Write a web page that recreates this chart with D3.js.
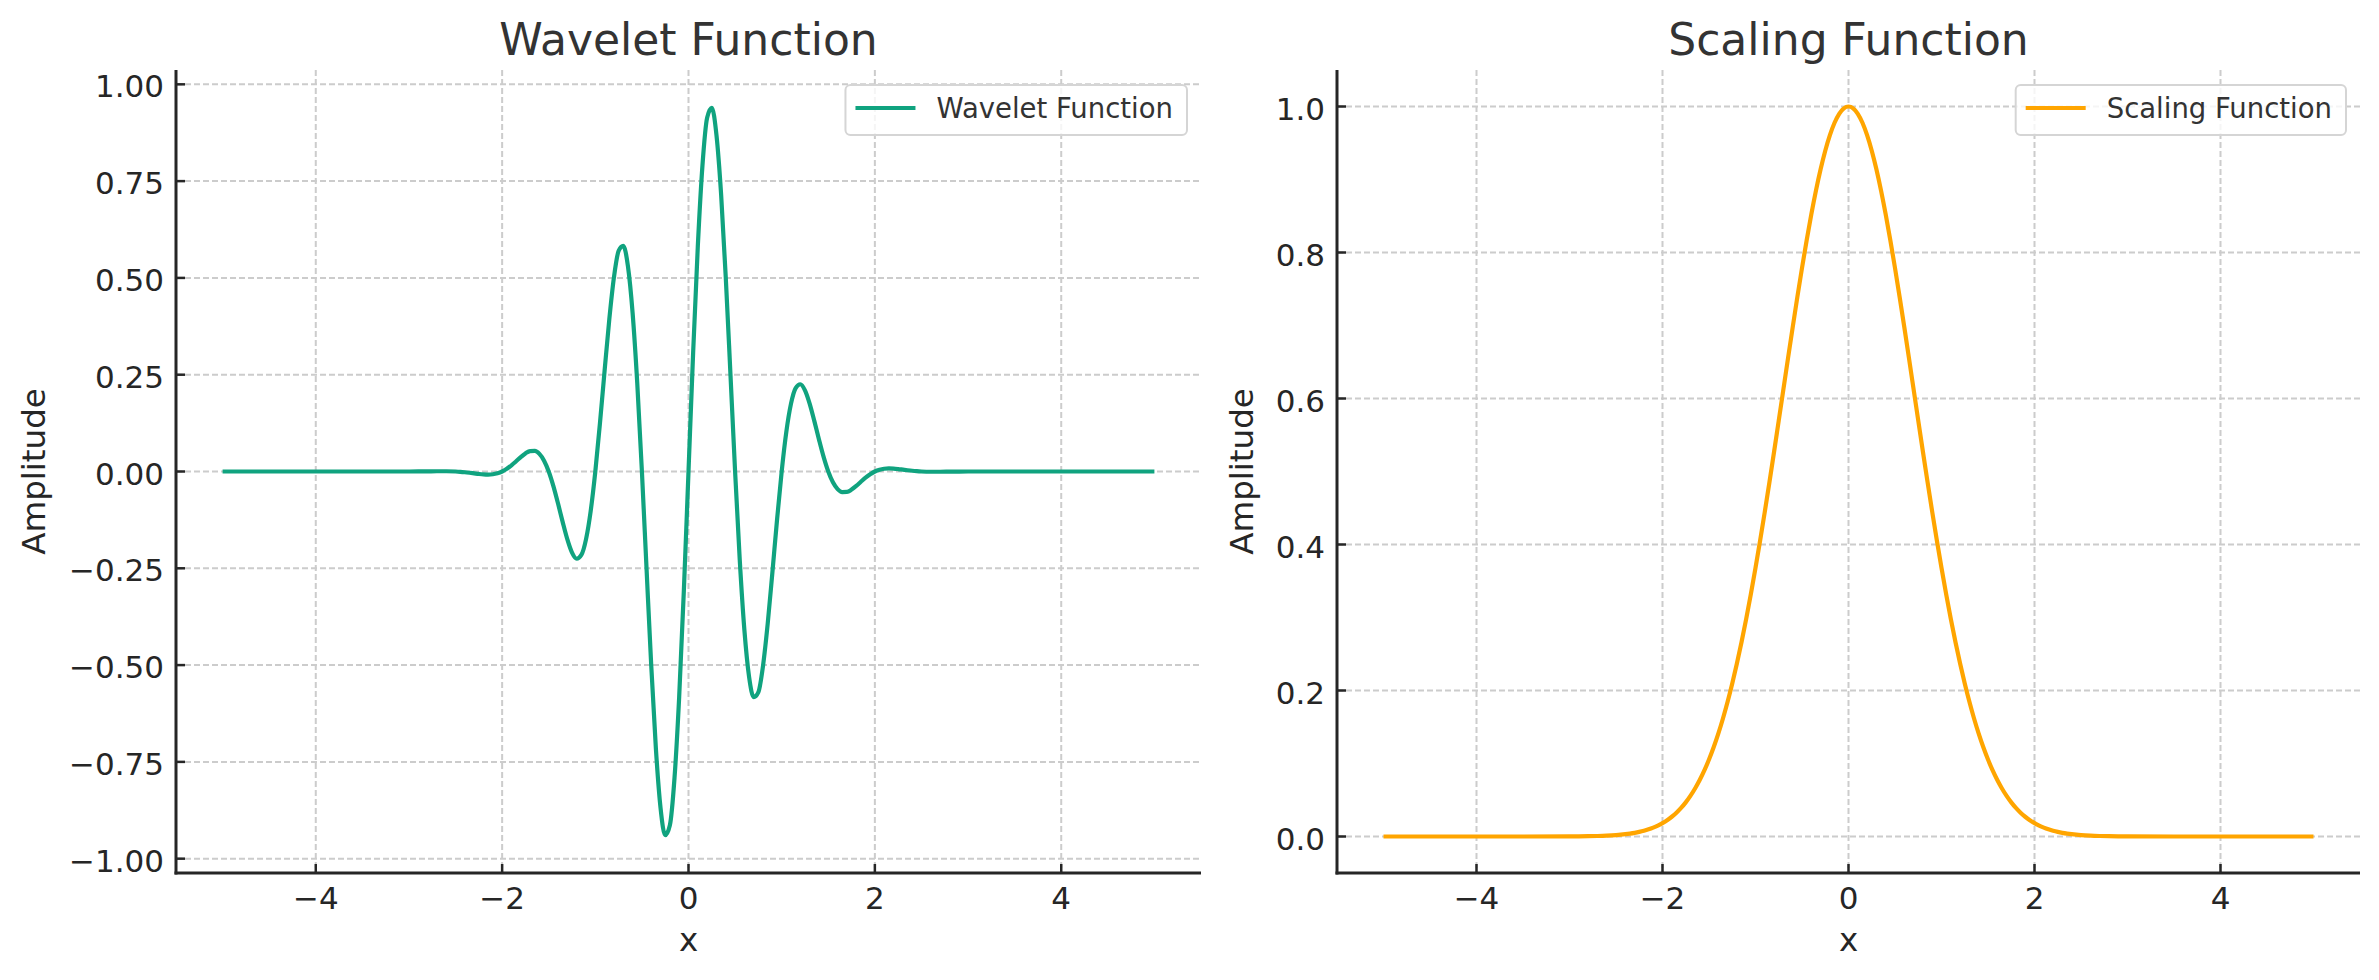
<!DOCTYPE html>
<html><head><meta charset="utf-8">
<script src="https://cdn.jsdelivr.net/npm/d3@7"></script>
<style>body{margin:0;background:#fff} svg{display:block} text{font-family:"DejaVu Sans",sans-serif}</style>
</head><body><svg id="chart" width="2379" height="980"></svg>
<script>
const xValues = [-5,-4.5,-4,-3.5,-3,-2.9,-2.8,-2.7,-2.6,-2.5,-2.45,-2.4,-2.35,-2.3,-2.25,-2.2,-2.15,-2.1,-2.05,-2,-1.95,-1.9,-1.85,-1.8,-1.75,-1.7,-1.65,-1.6,-1.55,-1.5,-1.45,-1.4,-1.35,-1.3,-1.25,-1.2,-1.15,-1.1,-1.05,-1,-0.95,-0.9,-0.85,-0.8,-0.75,-0.7,-0.65,-0.6,-0.55,-0.5,-0.45,-0.4,-0.35,-0.3,-0.25,-0.2,-0.15,-0.1,-0.05,0,0.05,0.1,0.15,0.2,0.25,0.3,0.35,0.4,0.45,0.5,0.55,0.6,0.65,0.7,0.75,0.8,0.85,0.9,0.95,1,1.05,1.1,1.15,1.2,1.25,1.3,1.35,1.4,1.45,1.5,1.55,1.6,1.65,1.7,1.75,1.8,1.85,1.9,1.95,2,2.05,2.1,2.15,2.2,2.25,2.3,2.35,2.4,2.45,2.5,2.6,2.7,2.8,2.9,3,3.5,4,4.5,5];
const waveletValues = [0,0,0,0,0,0.00013,0.00037,0.00065,0.00068,0,-0.00076,-0.00185,-0.00324,-0.00479,-0.00633,-0.00752,-0.00795,-0.00715,-0.00462,0,0.0069,0.0159,0.0264,0.03724,0.04677,0.05286,0.05316,0.04544,0.02796,0,-0.03774,-0.0828,-0.13075,-0.17549,-0.20961,-0.22533,-0.21558,-0.17528,-0.10261,0,0.12533,0.26148,0.39281,0.50149,0.56978,0.58265,0.53024,0.41009,0.22836,0,-0.25237,-0.50088,-0.71575,-0.8692,-0.93941,-0.91377,-0.79102,-0.58194,-0.30825,0,0.30825,0.58194,0.79102,0.91377,0.93941,0.8692,0.71575,0.50088,0.25237,0,-0.22836,-0.41009,-0.53024,-0.58265,-0.56978,-0.50149,-0.39281,-0.26148,-0.12533,0,0.10261,0.17528,0.21558,0.22533,0.20961,0.17549,0.13075,0.0828,0.03774,0,-0.02796,-0.04544,-0.05316,-0.05286,-0.04677,-0.03724,-0.0264,-0.0159,-0.0069,0,0.00462,0.00715,0.00795,0.00752,0.00633,0.00479,0.00324,0.00185,0.00076,0,-0.00068,-0.00065,-0.00037,-0.00013,0,0,0,0,0];
const scalingValues = [0,0,0,0,0.00012,0.00022,0.00039,0.00068,0.00116,0.00193,0.00247,0.00315,0.004,0.00504,0.00633,0.00791,0.00983,0.01216,0.01496,0.01832,0.02232,0.02705,0.03263,0.03916,0.04677,0.05558,0.06571,0.0773,0.09049,0.1054,0.12215,0.14086,0.16162,0.18452,0.20961,0.23693,0.26647,0.2982,0.33204,0.36788,0.40555,0.44486,0.48554,0.52729,0.56978,0.61263,0.65541,0.69768,0.73897,0.7788,0.81669,0.85214,0.88471,0.91393,0.93941,0.96079,0.97775,0.99005,0.9975,1,0.9975,0.99005,0.97775,0.96079,0.93941,0.91393,0.88471,0.85214,0.81669,0.7788,0.73897,0.69768,0.65541,0.61263,0.56978,0.52729,0.48554,0.44486,0.40555,0.36788,0.33204,0.2982,0.26647,0.23693,0.20961,0.18452,0.16162,0.14086,0.12215,0.1054,0.09049,0.0773,0.06571,0.05558,0.04677,0.03916,0.03263,0.02705,0.02232,0.01832,0.01496,0.01216,0.00983,0.00791,0.00633,0.00504,0.004,0.00315,0.00247,0.00193,0.00116,0.00068,0.00039,0.00022,0.00012,0,0,0,0];
const xTicks = [-4,-2,0,2,4];
const waveletYTicks = [-1,-0.75,-0.5,-0.25,0,0.25,0.5,0.75,1];
const scalingYTicks = [0,0.2,0.4,0.6,0.8,1];
const titles = ["Wavelet Function","Scaling Function"];
const seriesNames = ["Wavelet Function","Scaling Function"];
const xLabel = "x";
const yLabel = "Amplitude";

const svg = d3.select("#chart");
const TOP = 70, BOTTOM = 873;
const panels = [
  {title:titles[0], name:seriesNames[0], values:waveletValues, color:"#10a37f", yTicks:waveletYTicks, fmt:d3.format(".2f"), left:176, right:1201, yDomain:[-1.037,1.037], ylabelX:45},
  {title:titles[1], name:seriesNames[1], values:scalingValues, color:"#ffa500", yTicks:scalingYTicks, fmt:d3.format(".1f"), left:1337, right:2360, yDomain:[-0.05,1.05], ylabelX:1253}
];
const ink = "#262626";
panels.forEach(p => {
  const x = d3.scaleLinear().domain([-5.5,5.5]).range([p.left,p.right]);
  const y = d3.scaleLinear().domain(p.yDomain).range([BOTTOM,TOP]);
  const g = svg.append("g");
  // grid
  g.selectAll(".vg").data(xTicks).join("line")
    .attr("x1",d=>x(d)).attr("x2",d=>x(d)).attr("y1",TOP).attr("y2",BOTTOM)
    .attr("stroke","#cccccc").attr("stroke-width",2).attr("stroke-dasharray","6,3");
  g.selectAll(".hg").data(p.yTicks).join("line")
    .attr("y1",d=>y(d)).attr("y2",d=>y(d)).attr("x1",p.left).attr("x2",p.right)
    .attr("stroke","#cccccc").attr("stroke-width",2).attr("stroke-dasharray","6,3");
  // line
  const line = d3.line().x((d,i)=>x(xValues[i])).y(d=>y(d)).curve(d3.curveMonotoneX);
  g.append("path").datum(p.values).attr("d",line).attr("fill","none")
    .attr("stroke",p.color).attr("stroke-width",4.2).attr("stroke-linejoin","round");
  // spines
  g.append("line").attr("x1",p.left).attr("x2",p.left).attr("y1",TOP).attr("y2",BOTTOM+1.5).attr("stroke",ink).attr("stroke-width",3);
  g.append("line").attr("x1",p.left-1.5).attr("x2",p.right).attr("y1",BOTTOM).attr("y2",BOTTOM).attr("stroke",ink).attr("stroke-width",3);
  // ticks (inward)
  g.selectAll(".xt").data(xTicks).join("line")
    .attr("x1",d=>x(d)).attr("x2",d=>x(d)).attr("y1",BOTTOM).attr("y2",BOTTOM-9)
    .attr("stroke",ink).attr("stroke-width",2.5);
  g.selectAll(".yt").data(p.yTicks).join("line")
    .attr("y1",d=>y(d)).attr("y2",d=>y(d)).attr("x1",p.left).attr("x2",p.left+9)
    .attr("stroke",ink).attr("stroke-width",2.5);
  g.selectAll(".xl").data(xTicks).join("text")
    .attr("x",d=>x(d)).attr("y",909).attr("text-anchor","middle")
    .attr("font-size",31).attr("fill",ink).text(d=>d3.format("d")(d));
  g.selectAll(".yl").data(p.yTicks).join("text")
    .attr("x",p.left-12).attr("y",d=>y(d)).attr("dy",13).attr("text-anchor","end")
    .attr("font-size",31).attr("fill",ink).text(d=>p.fmt(d));
  // title and labels
  const cx = (p.left+p.right)/2;
  g.append("text").attr("x",cx).attr("y",55).attr("text-anchor","middle")
    .attr("font-size",44).attr("fill","#333333").text(p.title);
  g.append("text").attr("x",cx).attr("y",951).attr("text-anchor","middle")
    .attr("font-size",32.5).attr("fill",ink).text(xLabel);
  g.append("text").attr("transform",`translate(${p.ylabelX},${(TOP+BOTTOM)/2}) rotate(-90)`)
    .attr("text-anchor","middle").attr("font-size",32.5).attr("fill",ink).text(yLabel);
  // legend
  const lg = g.append("g");
  const box = lg.append("rect");
  const txt = lg.append("text").attr("font-size",27.5).attr("fill","#333333").text(p.name);
  const tw = txt.node().getComputedTextLength();
  const bw = 10 + 60 + 21 + tw + 14;
  const bx = p.right - 14 - bw, by = 85;
  box.attr("x",bx).attr("y",by).attr("width",bw).attr("height",50).attr("rx",5)
    .attr("fill","#ffffff").attr("fill-opacity",0.8).attr("stroke","#d5d5d5").attr("stroke-width",2);
  lg.append("line").attr("x1",bx+10).attr("x2",bx+70).attr("y1",by+23).attr("y2",by+23)
    .attr("stroke",p.color).attr("stroke-width",4.2);
  txt.attr("x",bx+91).attr("y",by+33);
});
</script></body></html>
